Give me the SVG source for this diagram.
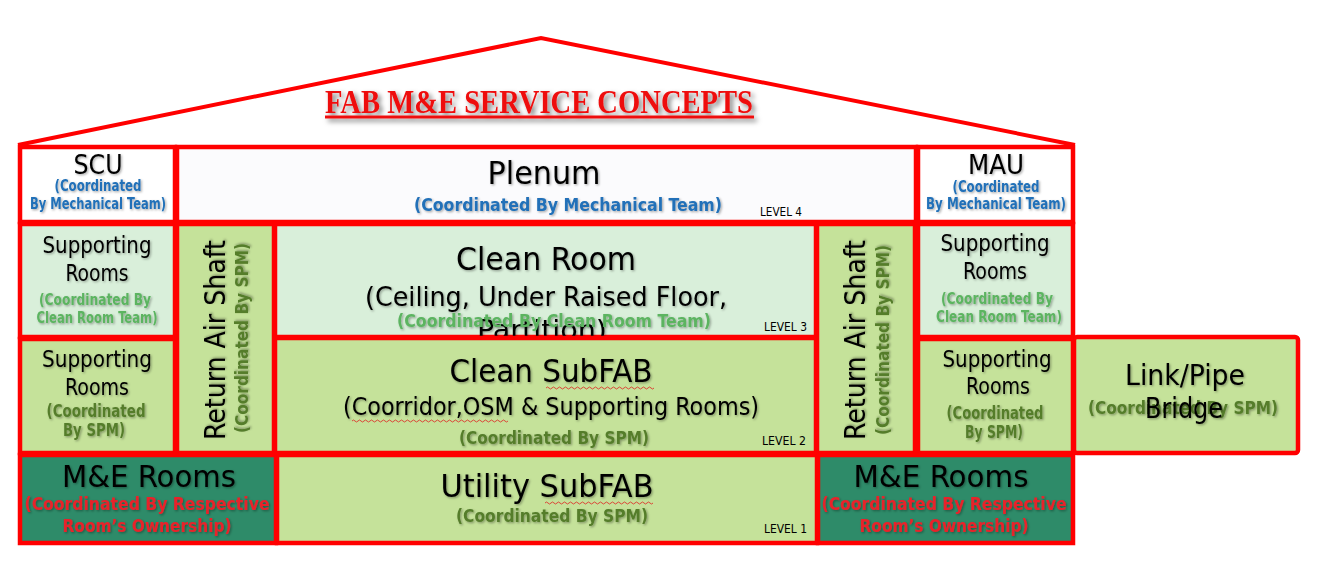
<svg xmlns="http://www.w3.org/2000/svg" width="1327" height="573" viewBox="0 0 1327 573">
<defs>
<style>
.bx{stroke:#ff0000;stroke-width:4.5;}
.wh{fill:#ffffff}.pl{fill:#fbfbfd}.mint{fill:#d9efda}.lg{fill:#c5e29a}.dg{fill:#2e8b69}
text{font-family:"DejaVu Sans Condensed","DejaVu Sans",sans-serif;text-anchor:middle;}
.t{fill:#000;filter:url(#sh)}
.b{fill:#2070b8;font-weight:bold;filter:url(#sh)}
.g{fill:#5bb460;font-weight:bold;filter:url(#sh)}
.o{fill:#557d2c;font-weight:bold;filter:url(#sh)}
.r{fill:#e8232a;font-weight:bold;filter:url(#sh)}
.lv{fill:#000;font-size:12px;text-anchor:start}
.sq{fill:none;stroke:#e02020;stroke-width:0.8}
</style>
<filter id="sh" x="-10%" y="-30%" width="120%" height="160%">
<feDropShadow dx="1.2" dy="1.2" stdDeviation="0.8" flood-color="#000" flood-opacity="0.35"/>
</filter>
<filter id="tsh" x="-10%" y="-30%" width="120%" height="160%">
<feDropShadow dx="3" dy="3" stdDeviation="2.5" flood-color="#000" flood-opacity="0.5"/>
</filter>
</defs>
<rect width="1327" height="573" fill="#ffffff"/>

<g id="roof">
<polyline points="18,145 541,38 1075,145" fill="none" stroke="#ff0000" stroke-width="4" stroke-linejoin="miter"/>
</g>

<g id="title" filter="url(#tsh)">
<text x="539" y="113" style="font-family:'Liberation Serif',serif;font-weight:bold;font-size:33px;fill:#ee1111" textLength="428" lengthAdjust="spacingAndGlyphs">FAB M&amp;E SERVICE CONCEPTS</text>
<rect x="325" y="115.5" width="429" height="3" fill="#ee1111"/>
</g>

<g id="scu">
<rect class="bx wh" x="20" y="147" width="155" height="75"/>
<text class="t" x="98" y="174" font-size="27" textLength="49" lengthAdjust="spacingAndGlyphs">SCU</text>
<text class="b" x="98" y="191" font-size="15" textLength="87" lengthAdjust="spacingAndGlyphs">(Coordinated</text>
<text class="b" x="98" y="209" font-size="15" textLength="136" lengthAdjust="spacingAndGlyphs">By Mechanical Team)</text>
</g>

<g id="plenum">
<rect class="bx pl" x="177" y="147" width="739" height="75"/>
<text class="t" x="544" y="184" font-size="32" textLength="113" lengthAdjust="spacingAndGlyphs">Plenum</text>
<text class="b" x="568" y="211" font-size="18" textLength="308" lengthAdjust="spacingAndGlyphs">(Coordinated By Mechanical Team)</text>
<text class="lv" x="760" y="216" textLength="42" lengthAdjust="spacingAndGlyphs">LEVEL 4</text>
</g>

<g id="mau">
<rect class="bx wh" x="918" y="147" width="155" height="75"/>
<text class="t" x="996" y="174" font-size="27" textLength="56" lengthAdjust="spacingAndGlyphs">MAU</text>
<text class="b" x="996" y="192" font-size="15" textLength="87" lengthAdjust="spacingAndGlyphs">(Coordinated</text>
<text class="b" x="996" y="209" font-size="15" textLength="140" lengthAdjust="spacingAndGlyphs">By Mechanical Team)</text>
</g>

<g id="supporting-cr-left">
<rect class="bx mint" x="20" y="224" width="155" height="113"/>
<text class="t" x="97" y="253" font-size="23" textLength="109" lengthAdjust="spacingAndGlyphs">Supporting</text>
<text class="t" x="97" y="281" font-size="23" textLength="63" lengthAdjust="spacingAndGlyphs">Rooms</text>
<text class="g" x="95" y="305" font-size="15" textLength="112" lengthAdjust="spacingAndGlyphs">(Coordinated  By</text>
<text class="g" x="97" y="323" font-size="15" textLength="121" lengthAdjust="spacingAndGlyphs">Clean Room Team)</text>
</g>

<g id="return-air-left">
<rect class="bx lg" x="177" y="224" width="97" height="229"/>
<text class="t" transform="translate(225,340) rotate(-90)" font-size="29" textLength="200" lengthAdjust="spacingAndGlyphs">Return Air Shaft</text>
<text class="o" transform="translate(248,338) rotate(-90)" font-size="17" textLength="190" lengthAdjust="spacingAndGlyphs">(Coordinated By SPM)</text>
</g>

<g id="clean-room">
<rect class="bx mint" x="275" y="224" width="541" height="113"/>
<text class="t" x="546" y="270" font-size="32" textLength="180" lengthAdjust="spacingAndGlyphs">Clean Room</text>
<text class="t" x="546" y="306" font-size="27" textLength="362" lengthAdjust="spacingAndGlyphs">(Ceiling, Under Raised Floor,</text>
<text class="t" x="542" y="339" font-size="27" textLength="130" lengthAdjust="spacingAndGlyphs">Partition)</text>
<text class="g" x="554" y="327" font-size="18" textLength="314" lengthAdjust="spacingAndGlyphs">(Coordinated By Clean Room Team)</text>
<text class="lv" x="764" y="331" textLength="43" lengthAdjust="spacingAndGlyphs">LEVEL 3</text>
</g>

<g id="return-air-right">
<rect class="bx lg" x="817" y="224" width="98" height="229"/>
<text class="t" transform="translate(865,340) rotate(-90)" font-size="29" textLength="200" lengthAdjust="spacingAndGlyphs">Return Air Shaft</text>
<text class="o" transform="translate(889,340) rotate(-90)" font-size="17" textLength="190" lengthAdjust="spacingAndGlyphs">(Coordinated By SPM)</text>
</g>

<g id="supporting-cr-right">
<rect class="bx mint" x="918" y="224" width="155" height="113"/>
<text class="t" x="995" y="251" font-size="23" textLength="109" lengthAdjust="spacingAndGlyphs">Supporting</text>
<text class="t" x="995" y="279" font-size="23" textLength="64" lengthAdjust="spacingAndGlyphs">Rooms</text>
<text class="g" x="997" y="304" font-size="15" textLength="112" lengthAdjust="spacingAndGlyphs">(Coordinated  By</text>
<text class="g" x="999" y="322" font-size="15" textLength="126" lengthAdjust="spacingAndGlyphs">Clean Room Team)</text>
</g>

<g id="supporting-spm-left">
<rect class="bx lg" x="20" y="339" width="155" height="114"/>
<text class="t" x="97" y="367" font-size="23" textLength="110" lengthAdjust="spacingAndGlyphs">Supporting</text>
<text class="t" x="97" y="395" font-size="23" textLength="64" lengthAdjust="spacingAndGlyphs">Rooms</text>
<text class="o" x="96" y="417" font-size="17" textLength="99" lengthAdjust="spacingAndGlyphs">(Coordinated</text>
<text class="o" x="94" y="436" font-size="17" textLength="62" lengthAdjust="spacingAndGlyphs">By SPM)</text>
</g>

<g id="clean-subfab">
<rect class="bx lg" x="275" y="338" width="541" height="115"/>
<text class="t" x="551" y="382" font-size="32" textLength="203" lengthAdjust="spacingAndGlyphs">Clean SubFAB</text>
<path class="sq" d="M546,388 q1.5,-2 3,0 t3,0 t3,0 t3,0 t3,0 t3,0 t3,0 t3,0 t3,0 t3,0 t3,0 t3,0 t3,0 t3,0 t3,0 t3,0 t3,0 t3,0 t3,0 t3,0 t3,0 t3,0 t3,0 t3,0 t3,0 t3,0 t3,0 t3,0 t3,0 t3,0 t3,0 t3,0 t3,0 t3,0 t3,0 t3,0"/>
<text class="t" x="551" y="415" font-size="25" textLength="416" lengthAdjust="spacingAndGlyphs">(Coorridor,OSM &amp; Supporting Rooms)</text>
<path class="sq" d="M352,421 q1.5,-2 3,0 t3,0 t3,0 t3,0 t3,0 t3,0 t3,0 t3,0 t3,0 t3,0 t3,0 t3,0 t3,0 t3,0 t3,0 t3,0 t3,0 t3,0 t3,0 t3,0 t3,0 t3,0 t3,0 t3,0 t3,0 t3,0 t3,0 t3,0 t3,0 t3,0 t3,0 t3,0 t3,0 t3,0 t3,0 t3,0 t3,0 t3,0 t3,0 t3,0 t3,0 t3,0 t3,0 t3,0 t3,0 t3,0 t3,0 t3,0 t3,0 t3,0 t3,0 t3,0"/>
<text class="o" x="554" y="444" font-size="18" textLength="190" lengthAdjust="spacingAndGlyphs">(Coordinated By SPM)</text>
<text class="lv" x="762" y="445" textLength="44" lengthAdjust="spacingAndGlyphs">LEVEL 2</text>
</g>

<g id="supporting-spm-right">
<rect class="bx lg" x="918" y="339" width="155" height="114"/>
<text class="t" x="997" y="367" font-size="23" textLength="109" lengthAdjust="spacingAndGlyphs">Supporting</text>
<text class="t" x="998" y="394" font-size="23" textLength="64" lengthAdjust="spacingAndGlyphs">Rooms</text>
<text class="o" x="995" y="419" font-size="17" textLength="97" lengthAdjust="spacingAndGlyphs">(Coordinated</text>
<text class="o" x="994" y="438" font-size="17" textLength="58" lengthAdjust="spacingAndGlyphs">By SPM)</text>
</g>

<g id="link-pipe-bridge">
<rect class="bx lg" x="1074" y="337" width="224" height="116" rx="3"/>
<text class="t" x="1185" y="385" font-size="29" textLength="120" lengthAdjust="spacingAndGlyphs">Link/Pipe</text>
<text class="o" x="1183" y="414" font-size="18" textLength="190" lengthAdjust="spacingAndGlyphs">(Coordinated By SPM)</text>
<text class="t" x="1184" y="418" font-size="29" textLength="78" lengthAdjust="spacingAndGlyphs">Bridge</text>
</g>

<g id="me-rooms-left">
<rect class="bx dg" x="20" y="455" width="256" height="88"/>
<text class="t" x="149" y="487" font-size="31" textLength="174" lengthAdjust="spacingAndGlyphs">M&amp;E Rooms</text>
<text class="r" x="147" y="510" font-size="18" textLength="245" lengthAdjust="spacingAndGlyphs">(Coordinated By Respective</text>
<text class="r" x="147" y="532" font-size="18" textLength="169" lengthAdjust="spacingAndGlyphs">Room’s Ownership)</text>
</g>

<g id="utility-subfab">
<rect class="bx lg" x="277" y="455" width="540" height="88"/>
<text class="t" x="547" y="497" font-size="32" textLength="213" lengthAdjust="spacingAndGlyphs">Utility SubFAB</text>
<path class="sq" d="M545,503 q1.5,-2 3,0 t3,0 t3,0 t3,0 t3,0 t3,0 t3,0 t3,0 t3,0 t3,0 t3,0 t3,0 t3,0 t3,0 t3,0 t3,0 t3,0 t3,0 t3,0 t3,0 t3,0 t3,0 t3,0 t3,0 t3,0 t3,0 t3,0 t3,0 t3,0 t3,0 t3,0 t3,0 t3,0 t3,0 t3,0 t3,0"/>
<text class="o" x="552" y="522" font-size="18" textLength="192" lengthAdjust="spacingAndGlyphs">(Coordinated By SPM)</text>
<text class="lv" x="764" y="533" textLength="43" lengthAdjust="spacingAndGlyphs">LEVEL 1</text>
</g>

<g id="me-rooms-right">
<rect class="bx dg" x="818" y="455" width="255" height="88"/>
<text class="t" x="941" y="487" font-size="31" textLength="175" lengthAdjust="spacingAndGlyphs">M&amp;E Rooms</text>
<text class="r" x="944" y="510" font-size="18" textLength="245" lengthAdjust="spacingAndGlyphs">(Coordinated By Respective</text>
<text class="r" x="944" y="532" font-size="18" textLength="169" lengthAdjust="spacingAndGlyphs">Room’s Ownership)</text>
</g>

<g id="connectors"></g>
</svg>
